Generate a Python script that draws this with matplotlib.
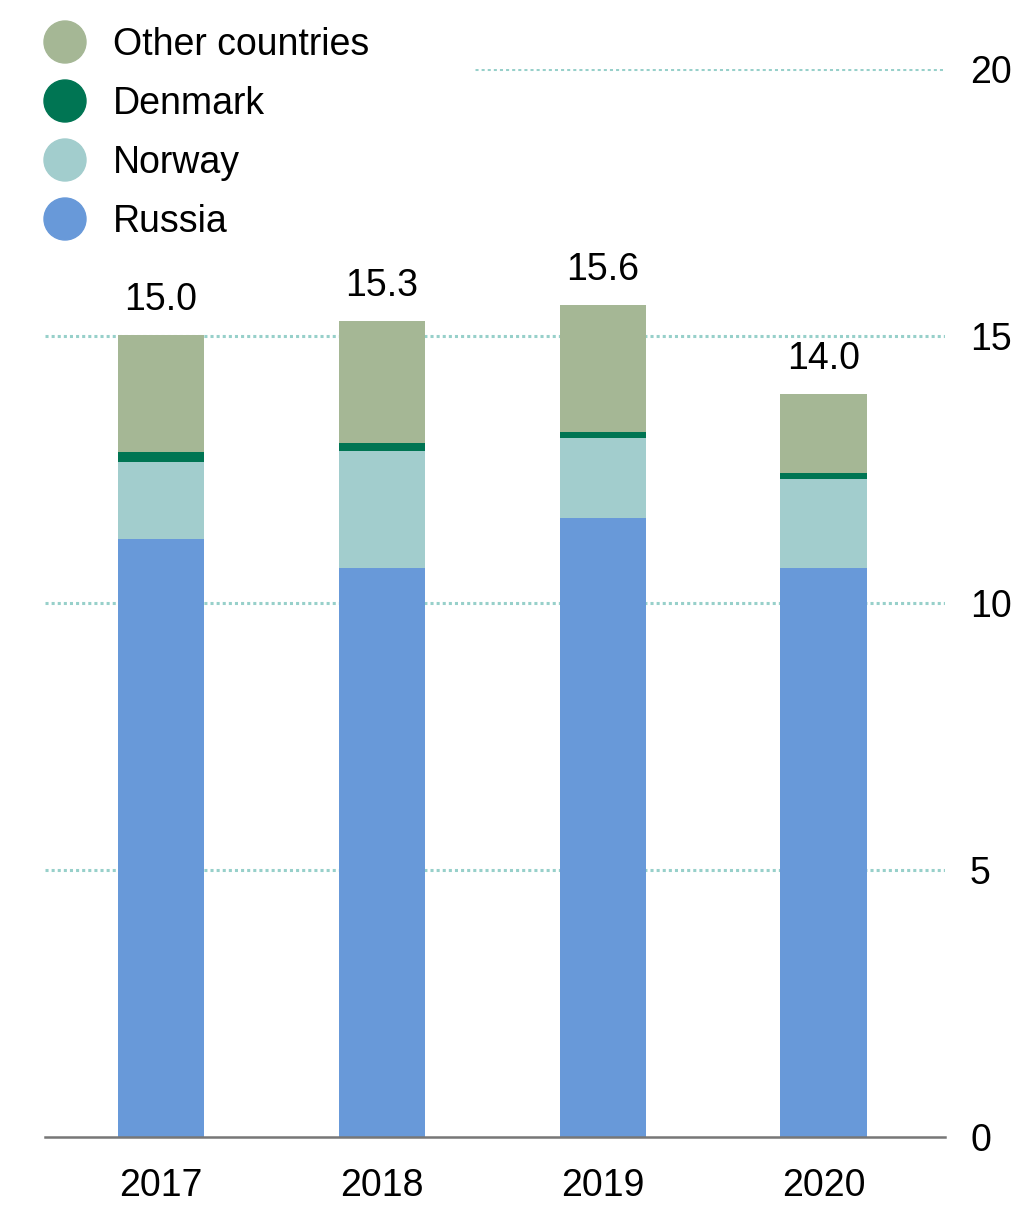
import numpy as np
import matplotlib.pyplot as plt
from matplotlib.patches import Circle

plt.rcParams['font.family'] = ['Liberation Sans', 'DejaVu Sans']

# Datos
years = ["2017", "2018", "2019", "2020"]
russia = [11.20, 10.66, 11.59, 10.66]
norway = [1.44, 2.19, 1.50, 1.67]
denmark = [0.19, 0.15, 0.11, 0.11]
other = [2.19, 2.28, 2.38, 1.48]
totals = ["15.0", "15.3", "15.6", "14.0"]
yticks = [0, 5, 10, 15, 20]

series = ["Russia", "Norway", "Denmark", "Other countries"]
colors = {"Russia": "#6899d9", "Norway": "#a2cdcd",
          "Denmark": "#007553", "Other countries": "#a5b795"}
grid_color = "#97d0ca"
FS = 27

fig = plt.figure(figsize=(10.24, 12.06), dpi=100)
ax = fig.add_axes([45/1024, 69/1206, 900/1024, 1068/1206])

x = np.arange(len(years))
bottom = np.zeros(len(years))
for name, vals in zip(series, [russia, norway, denmark, other]):
    ax.bar(x, vals, width=0.39, bottom=bottom, color=colors[name], zorder=3)
    bottom += np.array(vals)

# etiquetas de total
for xi, tot, lab in zip(x, bottom, totals):
    ax.annotate(lab, (xi, tot), xytext=(0, 18), textcoords="offset points",
                ha="center", va="baseline", fontsize=FS)

# líneas de cuadrícula punteadas
for t in yticks[1:]:
    xmin = 0.478 if t == 20 else 0
    ax.axhline(t, xmin=xmin, xmax=1, color=grid_color, lw=2.2,
               linestyle=(0, (1, 1)), zorder=1)

ax.set_xlim(-0.525, 3.55)
ax.set_ylim(0, 20)
ax.set_xticks(x, years)
ax.set_yticks(yticks, [str(t) for t in yticks])
ax.yaxis.tick_right()
ax.tick_params(axis="x", length=0, pad=22, labelsize=FS)
ax.tick_params(axis="y", length=0, pad=18, labelsize=FS)
for lab in ax.get_yticklabels():
    lab.set_horizontalalignment("left")
for s in ["top", "left", "right"]:
    ax.spines[s].set_visible(False)
ax.spines["bottom"].set_color("#777777")
ax.spines["bottom"].set_linewidth(1.8)
ax.spines["bottom"].set_zorder(4)

# leyenda manual
lg = fig.add_axes([0, 0, 1, 1], facecolor="none")
lg.set_xlim(0, 1024)
lg.set_ylim(1206, 0)
lg.axis("off")
for i, name in enumerate(["Other countries", "Denmark", "Norway", "Russia"]):
    yy = 42 + i * 59
    lg.add_patch(Circle((65, yy), 21, color=colors[name]))
    lg.text(113, yy + 3, name, va="center", ha="left", fontsize=FS)

fig.savefig("out.png", dpi=100)
